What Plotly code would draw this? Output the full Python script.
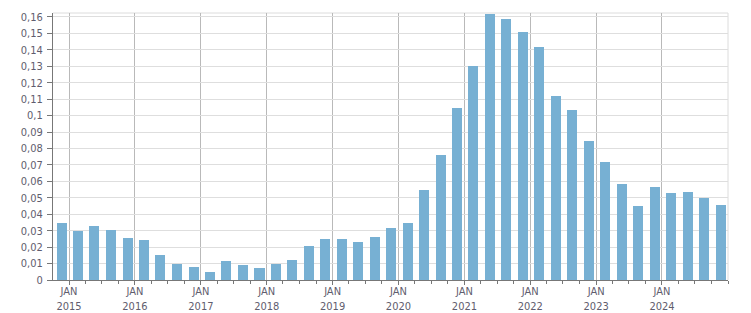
import pandas as pd
import plotly.graph_objects as go

# Quarterly periods (bar dates) and values
periods = pd.date_range("2015-01-01", "2025-01-01", freq="QS").strftime("%Y-%m-%d").tolist()
values = [
    0.0349, 0.0300, 0.0331, 0.0306,
    0.0258, 0.0245, 0.0154, 0.0099,
    0.0081, 0.0051, 0.0118, 0.0093,
    0.0075, 0.0099, 0.0124, 0.0209,
    0.0252, 0.0252, 0.0233, 0.0264,
    0.0318, 0.0349, 0.0550, 0.0763,
    0.1049, 0.1304, 0.1620, 0.1590,
    0.1511, 0.1420, 0.1122, 0.1037,
    0.0848, 0.0720, 0.0586, 0.0452,
    0.0568, 0.0531, 0.0538, 0.0501,
    0.0458,
]
tick_dates = [f"{y}-01-01" for y in range(2015, 2025)]
tick_text = [f"JAN<br>{y}" for y in range(2015, 2025)]

DAY = 86400000
fig = go.Figure()
fig.add_trace(go.Bar(
    x=periods, y=values,
    width=55.5 * DAY, offset=-68 * DAY,
    marker=dict(color="#77b0d3", line=dict(width=0)),
    hoverinfo="x+y",
))

font = dict(family="DejaVu Sans Condensed, DejaVu Sans, sans-serif", size=11, color="#5f5d6e")
fig.update_layout(
    width=751, height=313,
    margin=dict(l=53, r=23, t=13, b=33),
    paper_bgcolor="white", plot_bgcolor="white",
    separators=", ",
    showlegend=False,
    font=font,
    bargap=0,
    shapes=[
        dict(type="line", xref="paper", yref="paper", x0=0, x1=1, y0=1, y1=1,
             line=dict(color="#dcdcdc", width=1), layer="below"),
        dict(type="line", xref="paper", yref="paper", x0=1, x1=1, y0=0, y1=1,
             line=dict(color="#dcdcdc", width=1), layer="below"),
    ],
)
fig.update_xaxes(
    type="date",
    automargin=False,
    range=["2014-10-04", "2025-01-01"],
    tickvals=tick_dates, ticktext=tick_text,
    ticks="outside", ticklen=4, tickcolor="#777777",
    showline=True, linecolor="#777777", linewidth=1,
    showgrid=True, gridcolor="#b9b9b9", gridwidth=1,
    minor=dict(dtick="M3", tick0="2015-01-01", ticks="outside", ticklen=3,
               tickcolor="#777777", showgrid=False),
    tickfont=font, tickangle=0, ticklabelstandoff=-3,
    zeroline=False,
)
fig.update_yaxes(
    automargin=False,
    range=[0, 0.1624],
    dtick=0.01, tick0=0,
    ticks="outside", ticklen=5, tickcolor="#777777",
    showline=True, linecolor="#777777", linewidth=1,
    showgrid=True, gridcolor="#dedede", gridwidth=1,
    zeroline=False,
    tickfont=font, ticklabelstandoff=2,
)
fig.write_html("out.html")
